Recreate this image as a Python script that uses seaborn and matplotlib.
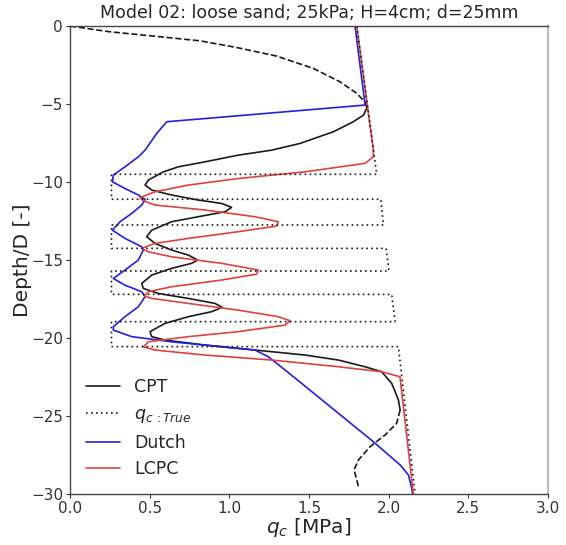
import numpy as np
import pandas as pd
import matplotlib
matplotlib.use("Agg")
import matplotlib.pyplot as plt
import seaborn as sns
from matplotlib.lines import Line2D

# ---- data ----
cpt_top_q = [0.0, 0.03, 0.25, 0.565, 0.816, 1.046, 1.297, 1.527, 1.695, 1.80, 1.85, 1.862]
cpt_top_d = [0.0, -0.04, -0.36, -0.68, -0.94, -1.37, -1.92, -2.71, -3.57, -4.31, -4.85, -5.17]

cpt_mid_q = [1.862, 1.862, 1.841, 1.778, 1.653, 1.444, 1.266, 1.057, 0.847, 0.680, 0.586, 0.492,
             0.471, 0.513, 0.638, 0.805, 0.952, 1.014, 0.973, 0.805, 0.638, 0.513, 0.481, 0.533,
             0.638, 0.743, 0.801, 0.763, 0.638, 0.513, 0.450, 0.460, 0.554, 0.743, 0.910, 0.956,
             0.889, 0.743, 0.596, 0.502, 0.513, 0.596, 0.847, 1.161, 1.475, 1.684, 1.851, 1.956,
             2.019, 2.035, 2.061, 2.072]
cpt_mid_d = [-5.17, -5.28, -5.71, -6.13, -6.77, -7.52, -7.95, -8.27, -8.70, -9.02, -9.34, -9.87,
             -10.19, -10.51, -10.83, -11.15, -11.37, -11.62, -11.90, -12.22, -12.54, -13.08, -13.50, -13.93,
             -14.36, -14.68, -15.0, -15.21, -15.53, -15.96, -16.50, -16.82, -17.14, -17.46, -17.78, -18.03,
             -18.31, -18.63, -19.06, -19.59, -19.91, -20.13, -20.45, -20.77, -21.09, -21.41, -21.84, -22.16,
             -22.91, -23.3, -23.97, -24.62]

cpt_bot_q = [2.072, 2.05, 1.977, 1.883, 1.81, 1.783, 1.80, 1.81]
cpt_bot_d = [-24.62, -25.47, -26.22, -26.97, -27.82, -28.46, -29.1, -29.53]

true_q = [1.80, 1.925, 0.26, 0.26, 1.95, 1.967, 0.26, 0.26, 1.984, 2.002, 0.26, 0.26,
          2.019, 2.04, 0.26, 0.26, 2.061, 2.166]
true_d = [0.0, -9.5, -9.5, -11.1, -11.1, -12.75, -12.75, -14.25, -14.25, -15.7, -15.7, -17.2,
          -17.2, -18.95, -18.95, -20.55, -20.55, -30.0]

dutch_q = [1.789, 1.852, 0.607, 0.544, 0.471, 0.429, 0.345, 0.272, 0.266, 0.345, 0.429, 0.471,
           0.450, 0.387, 0.314, 0.266, 0.345, 0.450, 0.460, 0.429, 0.345, 0.272, 0.345, 0.450,
           0.471, 0.429, 0.345, 0.272, 0.272, 0.387, 0.638, 0.952, 1.161, 1.245, 1.350, 1.454,
           1.904, 2.072, 2.124, 2.144, 2.15]
dutch_d = [0.0, -5.06, -6.13, -6.88, -7.95, -8.38, -9.02, -9.55, -9.98, -10.41, -10.83, -11.11,
           -11.47, -12.01, -12.54, -13.08, -13.61, -14.15, -14.36, -15.0, -15.64, -16.18, -16.61, -17.03,
           -17.35, -17.99, -18.63, -19.27, -19.49, -19.91, -20.24, -20.56, -20.77, -21.20, -22.05, -22.91,
           -26.65, -28.14, -28.78, -29.6, -30.0]

lcpc_q = [1.80, 1.866, 1.904, 1.904, 1.851, 1.475, 1.056, 0.743, 0.533, 0.439, 0.460, 0.533,
          0.847, 1.161, 1.307, 1.297, 1.056, 0.743, 0.533, 0.450, 0.492, 0.638, 0.952, 1.182,
          1.171, 0.952, 0.638, 0.492, 0.467, 0.513, 0.743, 1.056, 1.307, 1.381, 1.350, 1.056,
          0.743, 0.492, 0.460, 0.533, 0.847, 1.266, 1.684, 1.956, 2.071, 2.155]
lcpc_d = [0.0, -5.1, -7.95, -8.38, -8.80, -9.34, -9.77, -10.19, -10.62, -11.0, -11.2, -11.47,
          -11.79, -12.22, -12.54, -12.82, -13.18, -13.61, -13.93, -14.25, -14.47, -14.79, -15.21, -15.64,
          -15.90, -16.28, -16.71, -17.03, -17.31, -17.46, -17.78, -18.21, -18.63, -18.89, -19.17, -19.59,
          -19.91, -20.24, -20.56, -20.77, -21.09, -21.41, -21.84, -22.16, -22.48, -30.0]

title = "Model 02: loose sand; 25kPa; H=4cm; d=25mm"

# ---- plotting ----
sns.set_style("white")
plt.rcParams['font.family'] = ['DejaVu Sans']

fig = plt.figure(figsize=(5.66, 5.45), dpi=100)
ax = fig.add_axes([0.1237, 0.0936, 0.8445, 0.8584])

def line(q, d, **kw):
    df = pd.DataFrame({"q": q, "d": d})
    sns.lineplot(data=df, x="q", y="d", sort=False, estimator=None, ax=ax, **kw)

lw = 1.2
blk = "#1a1a1a"
blue = "#2020e0"
red = "#e04040"

line(cpt_top_q, cpt_top_d, color=blk, lw=lw, linestyle="--")
line(cpt_mid_q, cpt_mid_d, color=blk, lw=lw)
line(cpt_bot_q, cpt_bot_d, color=blk, lw=lw, linestyle="--")
line(dutch_q, dutch_d, color=blue, lw=lw)
line(lcpc_q, lcpc_d, color=red, lw=lw)
line(true_q, true_d, color=blk, lw=1.2, linestyle=(0, (1, 2)))

handles = [Line2D([], [], color=blk, lw=lw),
           Line2D([], [], color=blk, lw=1.2, linestyle=(0, (1, 2))),
           Line2D([], [], color=blue, lw=lw),
           Line2D([], [], color=red, lw=lw)]
labels = ["CPT", r"$q_{c\,:True}$", "Dutch", "LCPC"]
ax.legend(handles, labels, loc="lower left", frameon=False, fontsize=12.5)

ax.set_xlim(0, 3.0)
ax.set_ylim(-30, 0)
ax.set_xticks([0, 0.5, 1.0, 1.5, 2.0, 2.5, 3.0])
ax.set_yticks([0, -5, -10, -15, -20, -25, -30])
ax.set_xticklabels(["0.0", "0.5", "1.0", "1.5", "2.0", "2.5", "3.0"])
ax.set_yticklabels(["0", "\u22125", "\u221210", "\u221215", "\u221220", "\u221225", "\u221230"])
ax.tick_params(direction="out", length=3, width=0.8, pad=2, labelsize=11, colors="#333333",
               left=True, bottom=True)
ax.set_xlabel(r"$q_c$ [MPa]", fontsize=14.5, labelpad=0)
ax.set_ylabel("Depth/D [-]", fontsize=14.5, labelpad=-1)
ax.set_title(title, fontsize=12.5)

for s in ["left", "bottom", "top"]:
    ax.spines[s].set_color("#444444")
    ax.spines[s].set_linewidth(1.0)
ax.spines["right"].set_color("#bbbbbb")
ax.spines["right"].set_linewidth(1.6)

fig.savefig("out.png", dpi=100)
